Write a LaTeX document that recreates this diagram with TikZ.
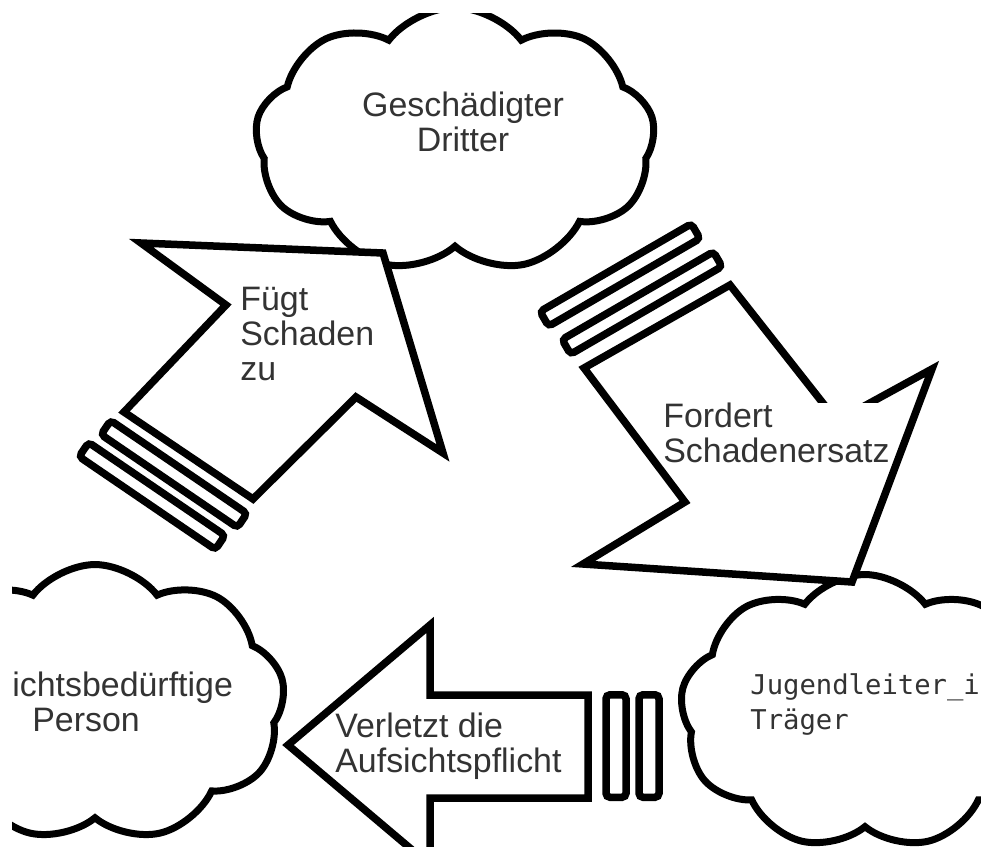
\documentclass[tikz,border=0pt]{standalone}
\usepackage{fontspec}
\setmainfont{Liberation Sans}
\newfontfamily\monofont{DejaVu Sans Mono}
\usetikzlibrary{shapes.symbols}
\tikzset{
  wolke/.style={cloud,cloud puffs=9,cloud puff arc=105,cloud ignores aspect,draw,fill=white,line width=0.14cm,inner sep=0pt},
  pfeil/.style={draw,fill=white,line width=0.15cm,line join=miter},
  streifen/.style={draw,fill=white,line width=0.15cm,rounded corners=0.08cm,minimum height=0.34cm,inner sep=0pt},
  txt/.style={font=\fontsize{19.3}{19.9}\selectfont,text=black!80,align=left,inner sep=0pt,anchor=north west}
}
\begin{document}
\begin{tikzpicture}[x=0.02cm,y=-0.02cm]
\useasboundingbox (0,0) rectangle (981,846);
\fill[white] (0,0) rectangle (981,846);
\begin{scope}
\clip (12,13) rectangle (981,846);
% Wolken
\node[wolke,minimum width=8cm,minimum height=5.3cm,shape border rotate=10] (dritter) at (455,140) {};
\node[wolke,minimum width=7.6cm,minimum height=5.54cm,shape border rotate=15] (person) at (95,703) {};
\node[wolke,minimum width=7.4cm,minimum height=5.5cm,shape border rotate=5] (leiter) at (865,712) {};
% Pfeil: Fuegt Schaden zu
\draw[pfeil] (383,253) -- (141,243) -- (226,305) -- (124,412) -- (253,499) -- (356,397) -- (443,453) -- cycle;
\node[streifen,minimum width=3.3cm,rotate=-34.3] (sa1) at (174,474) {};
\node[streifen,minimum width=3.3cm,rotate=-34.3] (sa2) at (152,496) {};
% Pfeil: Fordert Schadenersatz
\draw[pfeil] (730,285) -- (837,421) -- (932,369) -- (852,582) -- (583,564) -- (685,502) -- (584,368) -- cycle;
\node[streifen,minimum width=3.5cm,rotate=30.1] (sb1) at (642,303) {};
\node[streifen,minimum width=3.5cm,rotate=30.1] (sb2) at (620,275) {};
% Pfeil: Verletzt die Aufsichtspflicht
\draw[pfeil] (288,745) -- (430,625) -- (430,695) -- (588,695) -- (588,798) -- (430,798) -- (430,865) -- cycle;
\node[streifen,minimum width=2.05cm,minimum height=0.4cm,rotate=90] (sc1) at (616,746) {};
\node[streifen,minimum width=2.05cm,minimum height=0.4cm,rotate=90] (sc2) at (649,746) {};
% Texte
\node[txt,anchor=north,align=center] (tdritter) at (463,92) {Geschädigter\\Dritter};
\node[txt] (tfuegt) at (240,287) {Fügt\\Schaden\\zu};
\node[txt,fill=white] (tfordert) at (663,403) {Fordert\\Schadenersatz};
\node[txt] (tverletzt) at (335,713) {Verletzt die\\Aufsichtspflicht};
\node[txt] (tperson) at (12,672) {ichtsbedürftige\\\hspace*{0.4cm}Person};
\node[txt,font=\monofont\fontsize{15.5}{19.9}\selectfont] (tleiter) at (750,673) {Jugendleiter\_in\\Träger};
\end{scope}
\end{tikzpicture}
\end{document}
